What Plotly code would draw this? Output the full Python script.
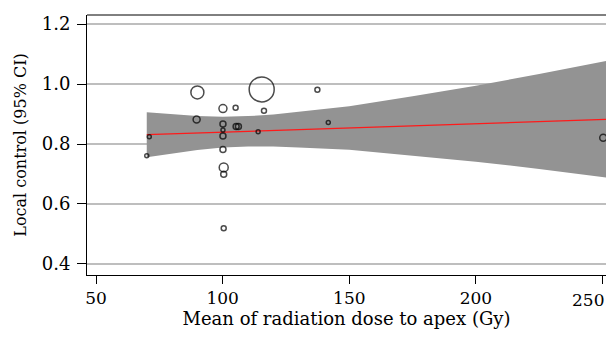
import plotly.graph_objects as go

# Study points: mean dose to apex (Gy), local control, marker diameter (px, study weight)
dose = [71.0, 70.0, 90.0, 89.7, 100.1, 100.1, 100.1, 100.1, 100.1, 100.4, 100.4, 100.4,
        105.1, 105.3, 106.2, 114.0, 115.4, 116.3, 137.4, 141.7, 250.3]
control = [0.824, 0.761, 0.972, 0.882, 0.918, 0.867, 0.847, 0.827, 0.782, 0.722, 0.699, 0.519,
           0.921, 0.858, 0.858, 0.841, 0.982, 0.911, 0.981, 0.872, 0.821]
weight_size = [4, 4, 13, 7, 8, 6, 4, 6, 6, 9, 6, 5,
               5, 6, 6, 4, 25, 5, 5, 4, 7]

# Meta-regression line and 95% CI band
fit_x = [70.0, 251.4]
fit_y = [0.831, 0.882]
band_x = [70, 80, 90, 100, 110, 120, 130, 150, 175, 200, 225, 251.4]
band_upper = [0.906, 0.899, 0.893, 0.891, 0.893, 0.898, 0.908, 0.926, 0.959, 0.994, 1.033, 1.077]
band_lower = [0.756, 0.769, 0.780, 0.788, 0.792, 0.792, 0.788, 0.781, 0.762, 0.741, 0.717, 0.688]

y_ticks = [0.4, 0.6, 0.8, 1.0, 1.2]
x_ticks = [50, 100, 150, 200, 250]

FONT = "DejaVu Serif"

fig = go.Figure()

fig.add_trace(go.Scatter(
    x=band_x + band_x[::-1],
    y=band_upper + band_lower[::-1],
    fill="toself", fillcolor="#939393", line=dict(width=0), mode="lines",
    hoverinfo="skip", showlegend=False,
))
fig.add_trace(go.Scatter(
    x=fit_x, y=fit_y, mode="lines",
    line=dict(color="#FF1A1A", width=1.3), showlegend=False,
))
fig.add_trace(go.Scatter(
    x=dose, y=control, mode="markers",
    marker=dict(size=weight_size, color="rgba(0,0,0,0)", symbol="circle",
                line=dict(color="black", width=1.5)),
    showlegend=False,
))

# top border line of box
fig.add_shape(type="line", xref="paper", yref="paper", x0=0, x1=1, y0=1, y1=1,
              line=dict(color="black", width=1))

# last x tick label sits at the window edge: right-align it so it stays readable
last_tick = x_ticks[-1]
fig.add_annotation(x=last_tick, y=0, xref="x", yref="paper", text=str(last_tick),
                   showarrow=False, xanchor="right", yanchor="top", xshift=4, yshift=-13,
                   font=dict(family=FONT, size=17, color="black"))

fig.update_layout(
    width=606, height=340,
    margin=dict(l=87, r=0, t=15, b=65),
    paper_bgcolor="white", plot_bgcolor="white",
    font=dict(family=FONT, size=17, color="black"),
    xaxis=dict(
        range=[46.4, 251.4], tickvals=x_ticks,
        ticktext=[str(v) if v != last_tick else "" for v in x_ticks],
        automargin=False,
        showgrid=False, zeroline=False, showline=True, linecolor="black", linewidth=1,
        ticks="outside", ticklen=8, tickwidth=1, tickcolor="black",
        tickfont=dict(family=FONT, size=17),
        title=dict(text="Mean of radiation dose to apex (Gy)", standoff=2,
                   font=dict(family=FONT, size=18)),
    ),
    yaxis=dict(
        range=[0.3633, 1.23], tickvals=y_ticks, ticktext=[f"{v:.1f}" for v in y_ticks],
        automargin=False,
        showgrid=True, gridcolor="#BEBEBE", gridwidth=1.5, zeroline=False,
        showline=True, linecolor="black", linewidth=1,
        ticks="outside", ticklen=9, tickwidth=1, tickcolor="black",
        ticklabelstandoff=3,
        tickfont=dict(family=FONT, size=18),
        title=dict(text="Local control (95% CI)", standoff=11,
                   font=dict(family=FONT, size=16)),
    ),
)

# remove the page's default body margin so the figure fills the window exactly
fig.write_html("out.html",
               config={"displayModeBar": False},
               post_script="document.body.style.margin='0';document.body.style.overflow='hidden';")
